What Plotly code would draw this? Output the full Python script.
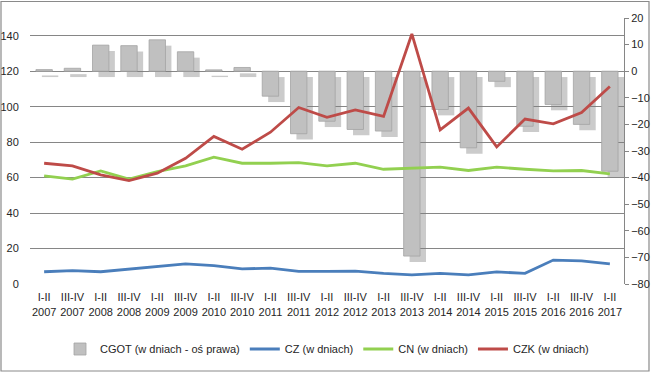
import plotly.graph_objects as go

periods = ["I-II", "III-IV"] * 10 + ["I-II"]
years = ["2007", "2007", "2008", "2008", "2009", "2009", "2010", "2010", "2011", "2011",
         "2012", "2012", "2013", "2013", "2014", "2014", "2015", "2015", "2016", "2016", "2017"]
tick_labels = [f"{p}<br>{y}" for p, y in zip(periods, years)]

cgot = [0.6, 1.1, 9.8, 9.6, 11.8, 7.3, 0.5, 1.4, -9.4, -23.5, -18.8, -21.9, -22.5, -69.5,
        -14.4, -28.8, -3.8, -20.7, -12.5, -20.0, -37.6]
cz = [6.9, 7.5, 6.9, 8.5, 9.8, 11.3, 10.4, 8.5, 9.0, 7.1, 7.1, 7.3, 6.0, 5.1, 6.0, 5.1,
      6.8, 6.0, 13.5, 13.0, 11.3]
cn = [61.0, 59.1, 63.8, 59.1, 63.4, 66.6, 71.5, 68.1, 68.1, 68.5, 66.6, 68.1, 64.7, 65.3,
      65.9, 64.0, 65.9, 64.7, 63.8, 64.0, 62.1]
czk = [68.1, 66.6, 61.5, 58.3, 62.5, 70.9, 83.2, 76.0, 85.6, 99.5, 94.0, 98.2, 94.5, 141.0,
       86.9, 99.2, 77.3, 93.0, 90.3, 96.7, 111.4]

x = list(range(len(periods)))
FONT = "Liberation Sans Narrow, Arial Narrow, Liberation Sans, Arial, sans-serif"
BAR_W = 0.58
SH_DX = 0.21   # shadow shift (category units)
SH_DY = 2.2    # shadow shift (right-axis units)

fig = go.Figure()
# bar shadow
fig.add_trace(go.Bar(x=x, y=cgot, base=[-SH_DY] * len(x), width=BAR_W,
                     offset=-BAR_W / 2 + SH_DX, marker=dict(color="rgba(125,125,125,0.40)", line=dict(width=0)),
                     showlegend=False, hoverinfo="skip", yaxis="y"))
fig.add_trace(go.Bar(x=x, y=cgot, width=BAR_W, name="CGOT (w dniach - oś prawa)",
                     marker=dict(color="#c0c0c0", line=dict(color="#a3a3a3", width=0.8)), yaxis="y"))
fig.add_trace(go.Scatter(x=x, y=cz, mode="lines", name="CZ (w dniach)",
                         line=dict(color="#4a7ebb", width=2.8), yaxis="y2"))
fig.add_trace(go.Scatter(x=x, y=cn, mode="lines", name="CN (w dniach)",
                         line=dict(color="#92d050", width=2.8), yaxis="y2"))
fig.add_trace(go.Scatter(x=x, y=czk, mode="lines", name="CZK (w dniach)",
                         line=dict(color="#be4b48", width=2.8), yaxis="y2"))

W, H = 651, 373
ml, mr, mt, mb = 30, 27, 18, 89
pw, ph = W - ml - mr, H - mt - mb

fig.update_layout(
    width=W, height=H,
    margin=dict(l=ml, r=mr, t=mt, b=mb, pad=0, autoexpand=False),
    paper_bgcolor="white", plot_bgcolor="white",
    barmode="overlay",
    font=dict(family=FONT, size=11, color="#262626"),
    xaxis=dict(range=[-0.5, len(x) - 0.5], tickmode="array", tickvals=x, ticktext=tick_labels,
               tickangle=0, showgrid=False, zeroline=False, showline=False, automargin=False,
               ticks="outside", ticklen=3, tickcolor="rgba(0,0,0,0)",
               tickfont=dict(size=11), fixedrange=True),
    yaxis=dict(side="right", range=[-80, 20], dtick=10, tick0=0, showgrid=False, zeroline=False,
               showline=True, linecolor="#868686", linewidth=1, ticks="outside", ticklen=4,
               tickcolor="#868686", automargin=False),
    yaxis2=dict(overlaying="y", side="left", range=[0, 150], dtick=20, tick0=0,
                showgrid=True, gridcolor="#868686", gridwidth=1, zeroline=False, showline=False,
                ticks="outside", ticklen=8, tickcolor="rgba(0,0,0,0)", automargin=False),
    legend=dict(orientation="h", x=0.5, xanchor="center", y=(284 - 349) / ph, yanchor="middle",
                font=dict(size=11), bgcolor="rgba(0,0,0,0)"),
    shapes=[dict(type="rect", xref="paper", yref="paper",
                 x0=(1 - ml) / pw, x1=(649 - ml) / pw,
                 y0=(mt + ph - 371) / ph, y1=(mt + ph - 1.5) / ph,
                 line=dict(color="#8a8a8a", width=1.2), fillcolor="rgba(0,0,0,0)", layer="below")],
)

fig.write_html("out.html", config={"displayModeBar": False},
               post_script="document.body.style.margin='0';document.body.style.overflow='hidden';")
